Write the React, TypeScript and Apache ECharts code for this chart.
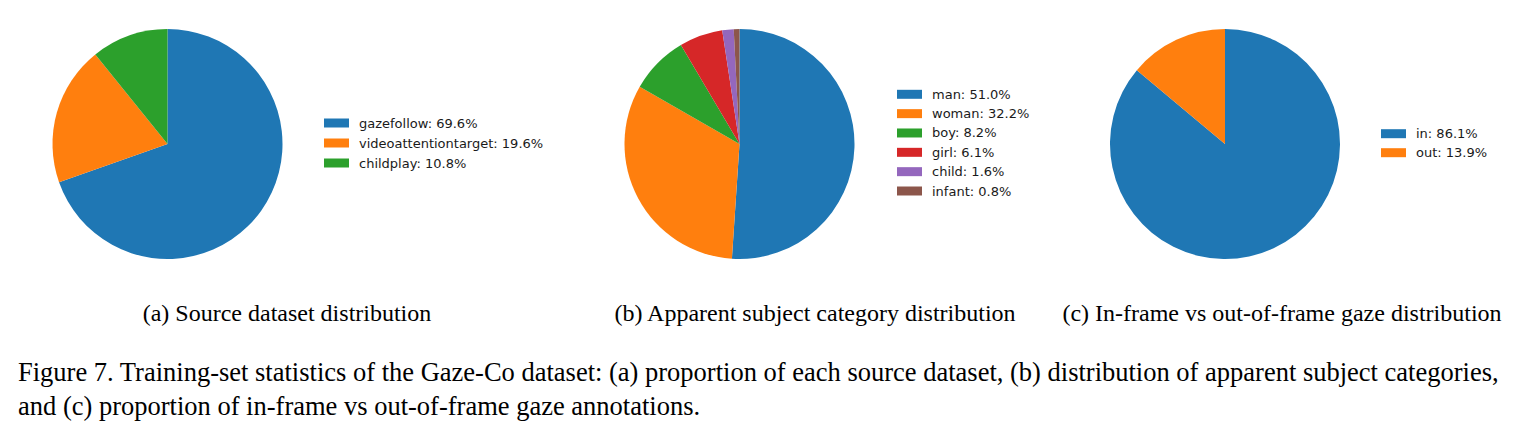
import React, { useEffect, useRef } from "react";
import * as echarts from "echarts";

const sourceNames = ["gazefollow", "videoattentiontarget", "childplay"];
const sourceValues = [69.6, 19.6, 10.8];
const subjectNames = ["man", "woman", "boy", "girl", "child", "infant"];
const subjectValues = [51.0, 32.2, 8.2, 6.1, 1.6, 0.8];
const gazeNames = ["in", "out"];
const gazeValues = [86.1, 13.9];
const palette = ["#1f77b4", "#ff7f0e", "#2ca02c", "#d62728", "#9467bd", "#8c564b"];
const subCaptions = [
  "(a) Source dataset distribution",
  "(b) Apparent subject category distribution",
  "(c) In-frame vs out-of-frame gaze distribution",
];
const figureCaption = [
  "Figure 7. Training-set statistics of the Gaze-Co dataset: (a) proportion of each source dataset, (b) distribution of apparent subject categories,",
  "and (c) proportion of in-frame vs out-of-frame gaze annotations.",
];

const W = 1519;
const H = 437;

function buildData(names: string[], values: number[]) {
  return names.map((n, i) => ({ name: n, value: values[i], itemStyle: { color: palette[i] } }));
}

export default function App() {
  const ref = useRef<HTMLDivElement>(null);
  useEffect(() => {
    if (!ref.current) return;
    const chart = echarts.init(ref.current, undefined, { renderer: "svg" });
    const valueMap: Record<string, number> = {};
    [[sourceNames, sourceValues], [subjectNames, subjectValues], [gazeNames, gazeValues]].forEach(([ns, vs]: any) => {
      ns.forEach((n: string, i: number) => (valueMap[n] = vs[i]));
    });
    const fmt = (name: string) => `${name}: ${valueMap[name].toFixed(1)}%`;
    const legendText = {
      fontFamily: "DejaVu Sans",
      fontSize: 13,
      color: "#1a1a1a",
      lineHeight: 14,
      padding: [0, 0, 0, 5],
    };
    const legendBase = {
      orient: "vertical",
      padding: 0,
      itemWidth: 25,
      itemHeight: 9,
      icon: "rect",
      selectedMode: false,
      formatter: fmt,
      textStyle: legendText,
      itemStyle: { borderWidth: 0 },
    };
    const pieBase = {
      type: "pie",
      radius: 115,
      startAngle: 90,
      clockwise: true,
      label: { show: false },
      labelLine: { show: false },
      silent: true,
      itemStyle: { borderWidth: 0 },
      emphasis: { disabled: true },
    };
    const captionCenters = [287, 815, 1282];
    chart.setOption({
      animation: false,
      backgroundColor: "#ffffff",
      legend: [
        { ...legendBase, left: 324, top: 116, itemGap: 6, data: sourceNames },
        { ...legendBase, left: 897, top: 87.3, itemGap: 5.34, data: subjectNames },
        { ...legendBase, left: 1381, top: 126.7, itemGap: 5, data: gazeNames },
      ],
      series: [
        { ...pieBase, name: "source", center: [167.5, 144], data: buildData(sourceNames, sourceValues) },
        { ...pieBase, name: "subject", center: [739.5, 144], data: buildData(subjectNames, subjectValues) },
        { ...pieBase, name: "gaze", center: [1225, 144], data: buildData(gazeNames, gazeValues) },
      ],
      graphic: [
        ...subCaptions.map((t, i) => ({
          type: "text",
          x: captionCenters[i],
          y: 312.8,
          silent: true,
          style: {
            text: t,
            fontFamily: "Liberation Serif",
            fontSize: 24,
            fill: "#000",
            align: "center",
            verticalAlign: "middle",
          },
        })),
        ...figureCaption.map((t, i) => ({
          type: "text",
          x: 18,
          y: 372.3 + i * 33.5,
          silent: true,
          style: {
            text: t,
            fontFamily: "Liberation Serif",
            fontSize: 26.5,
            fill: "#000",
            align: "left",
            verticalAlign: "middle",
          },
        })),
      ],
    });
    return () => chart.dispose();
  }, []);
  return (
    <div
      ref={ref}
      style={{ position: "absolute", left: 0, top: 0, width: W, height: H, background: "#fff" }}
    />
  );
}
